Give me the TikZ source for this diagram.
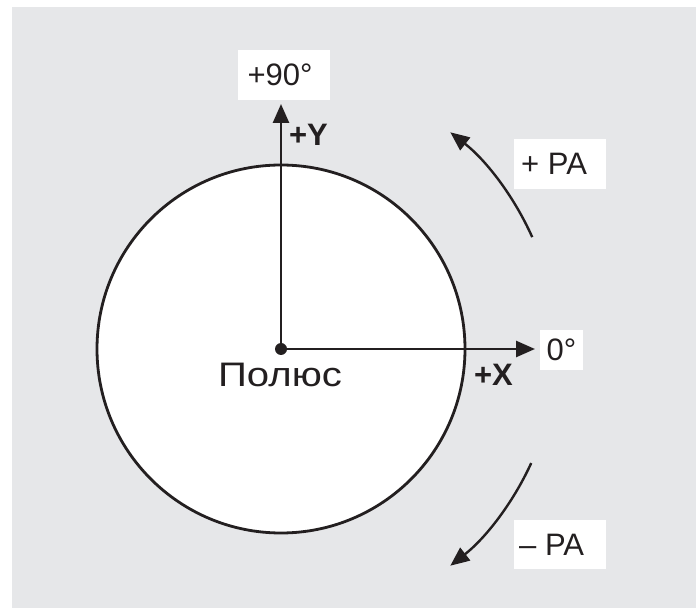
\documentclass[tikz,border=0pt]{standalone}
\usepackage{fontspec}
\setmainfont{Liberation Sans}
\usetikzlibrary{arrows.meta,calc}
\definecolor{bggray}{HTML}{E6E7E9}
\definecolor{ink}{HTML}{231F20}
\tikzset{
  axis/.style={draw=ink,line width=2.6pt,-{Triangle[length=19pt,width=16pt]}},
  rot/.style={draw=ink,line width=2.4pt,-{Triangle[length=19pt,width=16pt]}},
  labelbox/.style={fill=white,inner sep=0pt,text=ink,font=\fontsize{31}{36}\selectfont},
  labeltext/.style={inner sep=0pt,text=ink,font=\fontsize{31}{36}\selectfont},
  axlabel/.style={inner sep=0pt,text=ink,font=\fontsize{31}{36}\selectfont\bfseries},
}
\begin{document}
\begin{tikzpicture}[x=1pt,y=1pt]
\useasboundingbox (0,0) rectangle (696,608);
\fill[bggray] (12,0) rectangle (696,601);
\coordinate (O) at (281,259);
\node[draw=ink,fill=white,line width=2.8pt,circle,minimum size=368pt,inner sep=0pt] (circ) at (O) {};
\coordinate (ytip) at (281,504);
\coordinate (xtip) at (535,259);
\draw[axis] (O) -- (ytip);
\draw[axis] (O) -- (xtip);
\node[fill=ink,circle,minimum size=12pt,inner sep=0pt] (pole) at (O) {};
\node[inner sep=0pt,text=ink,font=\fontsize{34}{38}\selectfont,anchor=base] (polname) at (280,221) {\scalebox{1.18}[1]{Полюс}};
\node[labelbox,minimum width=92pt,minimum height=50pt] (l90) at (284,533) {};
\node[labeltext] (t90) at (280,533) {+90°};
\node[labelbox,minimum width=43pt,minimum height=40pt] (l0) at (561.5,258) {0°};
\node[labelbox,minimum width=92pt,minimum height=50pt] (lpa) at (560,444) {};
\node[labeltext,anchor=west] (tpa) at (521,444) {+ PA};
\node[labelbox,minimum width=92pt,minimum height=49pt] (lma) at (560,63.5) {};
\node[labeltext,anchor=west] (tma) at (519,63.5) {– PA};
\node[axlabel] (ly) at (308.5,473.5) {+Y};
\node[axlabel] (lx) at (493.5,233) {+X};
\coordinate (pas) at ($(O)+(24:275)$);
\coordinate (mas) at ($(O)+(-24.5:275)$);
\draw[rot] (pas) arc[start angle=24,end angle=52,radius=275];
\draw[rot] (mas) arc[start angle=-24.5,end angle=-52,radius=275];
\end{tikzpicture}
\end{document}
